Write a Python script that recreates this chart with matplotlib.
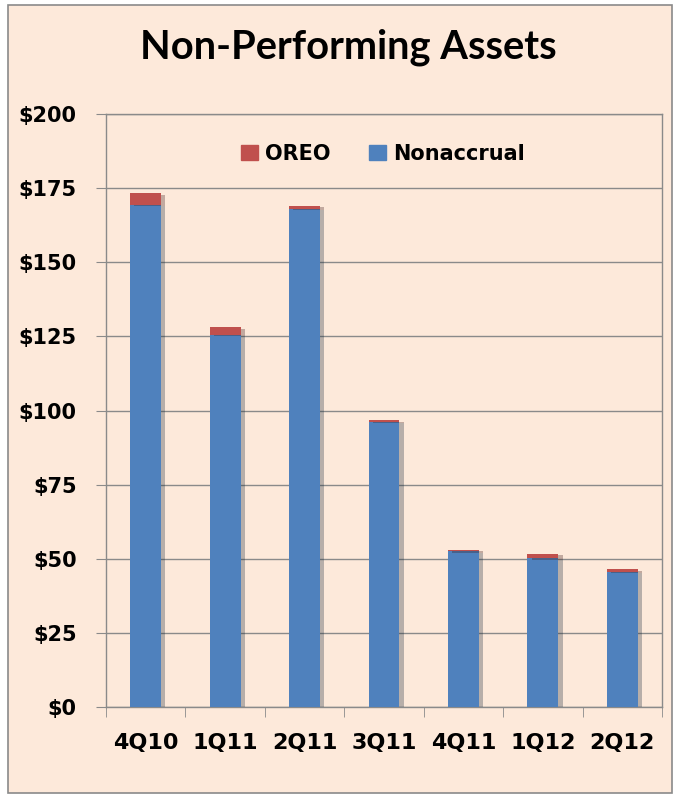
import matplotlib.pyplot as plt
import matplotlib.patheffects as pe
from matplotlib.patches import Patch
import numpy as np

quarters = ["4Q10", "1Q11", "2Q11", "3Q11", "4Q11", "1Q12", "2Q12"]
nonaccrual = [169.3, 125.5, 168.0, 96.2, 52.5, 50.2, 45.5]
oreo = [4.0, 2.5, 1.0, 0.5, 0.5, 1.5, 1.0]

bg = "#FDE9DA"
blue = "#4F81BD"
red = "#C0504D"
grey = "#8A8A8A"

plt.rcParams["font.family"] = ["DejaVu Sans"]
plt.rcParams["font.weight"] = "bold"

fig = plt.figure(figsize=(6.77, 7.98), dpi=100, facecolor="white")
fig.patches.append(plt.Rectangle((8 / 677, 5 / 798), 664 / 677, 788 / 798,
                                 transform=fig.transFigure, facecolor=bg,
                                 edgecolor=grey, linewidth=1.2, zorder=-1))

ax = fig.add_axes([106 / 677, 91 / 798, 556 / 677, 593 / 798])
ax.set_facecolor(bg)

x = np.arange(len(quarters))
w = 0.39
shadow = [pe.SimplePatchShadow(offset=(3, -1), alpha=0.3), pe.Normal()]
ax.bar(x, nonaccrual, w, color=blue, zorder=3, path_effects=shadow)
ax.bar(x, oreo, w, bottom=nonaccrual, color=red, zorder=3, path_effects=shadow)

ax.set_xlim(-0.5, len(quarters) - 0.5)
ax.set_ylim(0, 200)
ax.set_yticks(range(0, 201, 25))
ax.set_yticklabels([f"${v}" for v in range(0, 201, 25)], fontsize=15, fontweight="bold")
ax.grid(axis="y", color=grey, linewidth=1.0, zorder=0)

ax.set_xticks(x)
ax.set_xticklabels(quarters, fontsize=16, fontweight="bold")
ax.tick_params(axis="x", which="major", length=0, pad=19)
ax.set_xticks(np.arange(-0.5, len(quarters), 1), minor=True)
ax.tick_params(axis="x", which="minor", length=7, color=grey)
ax.tick_params(axis="y", length=7, color=grey, pad=14)

for s in ax.spines.values():
    s.set_color(grey)
    s.set_linewidth(1.0)

handles = [Patch(color=red, label="OREO"), Patch(color=blue, label="Nonaccrual")]
ax.legend(handles=handles, loc="center", bbox_to_anchor=(0.498, 0.933),
          ncol=2, frameon=False, fontsize=15, handlelength=0.8, handleheight=0.75,
          columnspacing=1.85, handletextpad=0.35)

fig.text(348 / 677, 1 - 58 / 798, "Non-Performing Assets", ha="center", va="baseline",
         fontsize=28.7, fontweight="bold", family=["Lato", "DejaVu Sans"])

fig.savefig("out.png", dpi=100, facecolor="white")
